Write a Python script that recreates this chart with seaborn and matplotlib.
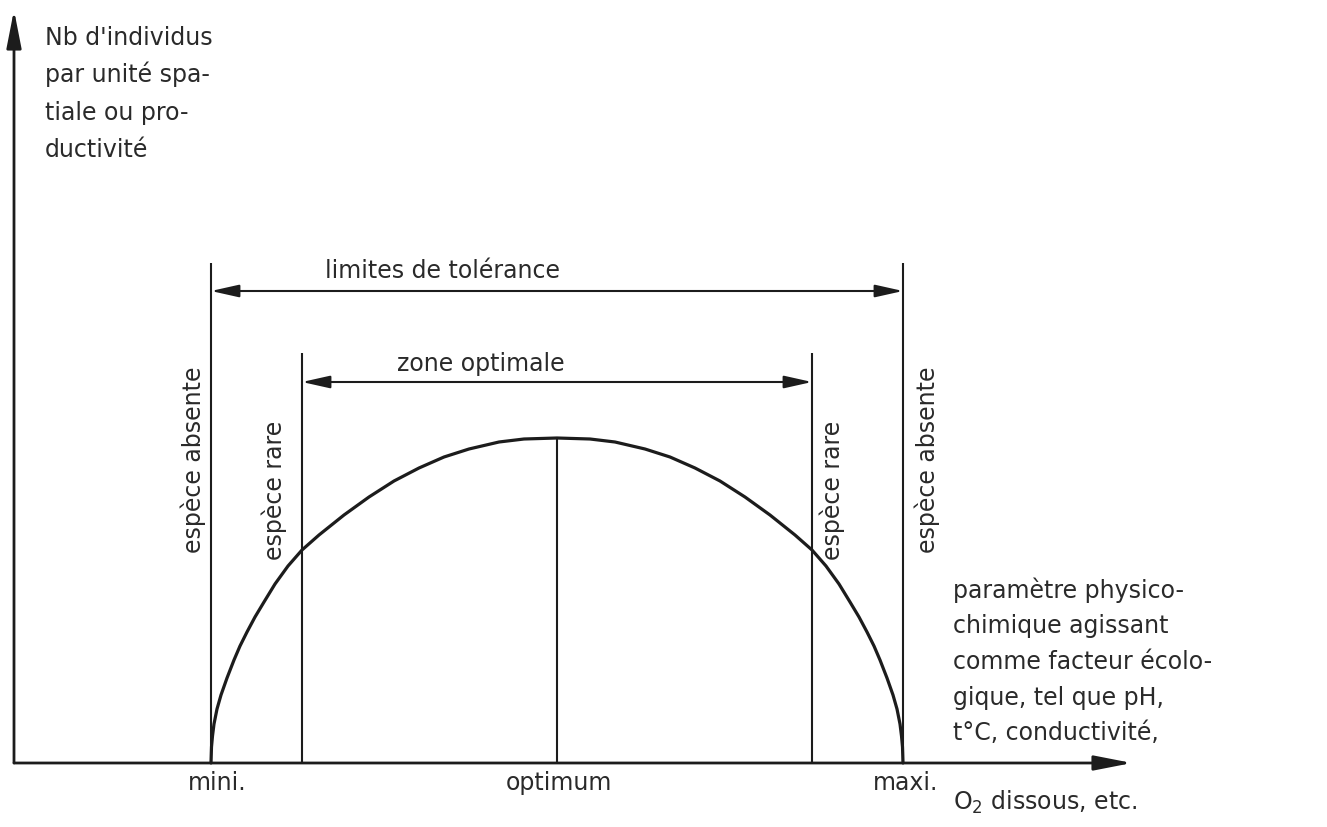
import matplotlib
matplotlib.use("Agg")
import matplotlib.pyplot as plt
import seaborn as sns

# positions along the parameter axis (arbitrary units)
x_mini = 1.97
x_rare_low = 2.88
x_optimum = 5.43
x_rare_high = 7.98
x_maxi = 8.89

# heights of the vertical limit lines and of the two range arrows
h_absent = 5.00
h_rare = 4.10
h_tolerance = 4.72
h_zone = 3.81

# axis lengths
x_axis_end = 11.18
y_axis_end = 7.53

# response curve
curve_x = [1.97, 1.975, 1.985, 2.00, 2.03, 2.07, 2.13, 2.20, 2.26, 2.33, 2.41, 2.50,
           2.61, 2.74, 2.88, 3.05, 3.30, 3.55, 3.80, 4.05, 4.30, 4.55, 4.85, 5.10,
           5.43,
           5.76, 6.01, 6.31, 6.56, 6.81, 7.06, 7.31, 7.56, 7.81, 7.98, 8.12, 8.25,
           8.36, 8.45, 8.53, 8.60, 8.66, 8.73, 8.79, 8.83, 8.86, 8.875, 8.885, 8.89]
curve_y = [0.00, 0.16, 0.27, 0.39, 0.54, 0.68, 0.85, 1.03, 1.17, 1.31, 1.46, 1.61,
           1.79, 1.97, 2.13, 2.28, 2.48, 2.66, 2.82, 2.95, 3.06, 3.14, 3.21, 3.24,
           3.25,
           3.24, 3.21, 3.14, 3.06, 2.95, 2.82, 2.66, 2.48, 2.28, 2.13, 1.97, 1.79,
           1.61, 1.46, 1.31, 1.17, 1.03, 0.85, 0.68, 0.54, 0.39, 0.27, 0.16, 0.00]

# texts
y_label_lines = ["Nb d'individus", "par unité spa-", "tiale ou pro-", "ductivité"]
x_label_lines = ["paramètre physico-", "chimique agissant", "comme facteur écolo-",
                 "gique, tel que pH,", "t°C, conductivité,"]
x_label_last = "O$_2$ dissous, etc."
tick_names = ["mini.", "optimum", "maxi."]
tick_pos = [2.03, 5.45, 8.92]

ink = "#1c1c1c"
txt = "#2a2a2a"
fs = 17

sns.set_style("white")
plt.rcParams['font.family'] = ['DejaVu Sans']

fig = plt.figure(figsize=(13.27, 8.27), dpi=100)
ax = fig.add_axes([0, 0, 1, 1])
ax.set_xlim(-0.14, 13.13)
ax.set_ylim(-0.64, 7.63)
ax.axis('off')

# curve
sns.lineplot(x=curve_x, y=curve_y, sort=False, color=ink, lw=2.3, ax=ax)

# vertical limit lines
ax.vlines([x_mini, x_maxi], 0, h_absent, color=ink, lw=1.5)
ax.vlines([x_rare_low, x_rare_high], 0, h_rare, color=ink, lw=1.5)
ax.vlines(x_optimum, 0, max(curve_y), color=ink, lw=1.5)

# axes with arrows
axis_arrow = dict(arrowstyle="-|>,head_length=2.3,head_width=0.45", color=ink,
                  lw=2, shrinkA=0, shrinkB=0, mutation_scale=10)
ax.annotate("", xy=(x_axis_end, 0), xytext=(0, 0), arrowprops=axis_arrow)
ax.annotate("", xy=(0, y_axis_end), xytext=(0, 0), arrowprops=axis_arrow)

# range arrows
range_arrow = dict(arrowstyle="<|-|>,head_length=1.7,head_width=0.38", color=ink,
                   lw=1.5, shrinkA=0, shrinkB=0, mutation_scale=10)
ax.annotate("", xy=(x_maxi, h_tolerance), xytext=(x_mini, h_tolerance), arrowprops=range_arrow)
ax.annotate("", xy=(x_rare_high, h_zone), xytext=(x_rare_low, h_zone), arrowprops=range_arrow)

ax.text(4.29, 4.85, "limites de tolérance", ha='center', va='baseline', fontsize=fs, color=txt)
ax.text(4.67, 3.92, "zone optimale", ha='center', va='baseline', fontsize=fs, color=txt)

# rotated labels next to the limit lines
for xr, yc, lab in [(1.92, 3.03, "espèce absente"), (2.73, 2.73, "espèce rare"),
                    (8.31, 2.73, "espèce rare"), (9.26, 3.03, "espèce absente")]:
    ax.text(xr, yc, lab, rotation=90, ha='right', va='center', fontsize=fs, color=txt)

# axis titles
for i, line in enumerate(y_label_lines):
    ax.text(0.31, 7.18 - i * 0.373, line, ha='left', va='baseline', fontsize=fs, color=txt)
for i, line in enumerate(x_label_lines):
    ax.text(9.39, 1.65 - i * 0.355, line, ha='left', va='baseline', fontsize=fs, color=txt)
ax.text(9.39, -0.47, x_label_last, ha='left', va='baseline', fontsize=fs, color=txt)

for pos, name in zip(tick_pos, tick_names):
    ax.text(pos, -0.27, name, ha='center', va='baseline', fontsize=fs, color=txt)

fig.savefig("out.png", dpi=100, facecolor='white')
